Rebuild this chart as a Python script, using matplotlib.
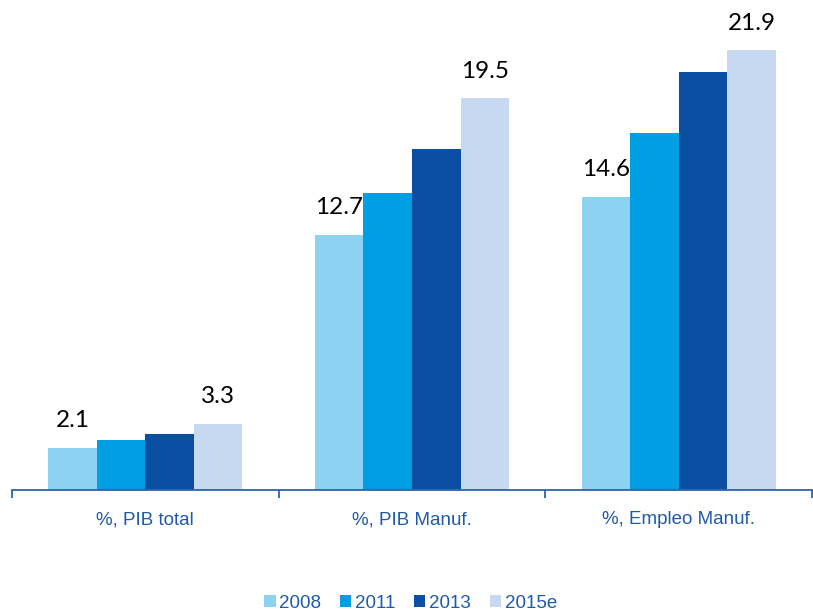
import numpy as np
import matplotlib.pyplot as plt
from matplotlib.patches import Patch

# ---- Data ----
categories = ["%, PIB total", "%, PIB Manuf.", "%, Empleo Manuf."]
series = ["2008", "2011", "2013", "2015e"]
v2008 = [2.1, 12.7, 14.6]
v2011 = [2.5, 14.8, 17.8]
v2013 = [2.8, 17.0, 20.8]
v2015 = [3.3, 19.5, 21.9]
colors = ["#8ED2F1", "#009FE3", "#0B4FA3", "#C7D9F0"]
label_series = {"2008", "2015e"}   # only first and last year carry a value label

blue_text = "#1F5AAA"
axis_blue = "#2F62AE"

fig = plt.figure(figsize=(8.13, 6.12), dpi=100)
ax = fig.add_axes([12 / 813, 122 / 612, 800 / 813, 482 / 612])

x = np.arange(len(categories))
width = 0.182
values = [v2008, v2011, v2013, v2015]

for i, (name, vals, c) in enumerate(zip(series, values, colors)):
    pos = x + (i - 1.5) * width
    bars = ax.bar(pos, vals, width=width, color=c, edgecolor="none")
    if name in label_series:
        for b, v in zip(bars, vals):
            ax.annotate(f"{v:.1f}", (b.get_x() + b.get_width() / 2, v),
                        xytext=(0, 12), textcoords="offset points",
                        ha="center", va="bottom", fontsize=17.5,
                        family="Lato", color="black")

ax.set_xlim(-0.5, 2.5)
ax.set_ylim(0, 24)

# ---- Axes styling ----
for s in ["top", "right", "left"]:
    ax.spines[s].set_visible(False)
ax.spines["bottom"].set_color(axis_blue)
ax.spines["bottom"].set_linewidth(1.3)
ax.set_yticks([])
ax.set_xticks([-0.5, 0.5, 1.5, 2.5])
ax.set_xticklabels([])
ax.tick_params(axis="x", direction="out", length=6, width=1.3, color=axis_blue)

for xi, cat in zip(x, categories):
    ax.text(xi, -0.062, cat, transform=ax.get_xaxis_transform(),
            ha="center", va="center", fontsize=13.5,
            family="Liberation Sans", color=blue_text)

# ---- Legend ----
handles = [Patch(facecolor=c, edgecolor="none") for c in colors]
leg = fig.legend(handles, series, loc="center", bbox_to_anchor=(0.505, 0.014),
                 ncol=4, frameon=False, handlelength=0.6, handleheight=0.6,
                 handletextpad=0.2, columnspacing=1.0, borderpad=0,
                 prop={"family": "Liberation Sans", "size": 13.5})
for t in leg.get_texts():
    t.set_color(blue_text)

fig.savefig("out.png", dpi=100)
